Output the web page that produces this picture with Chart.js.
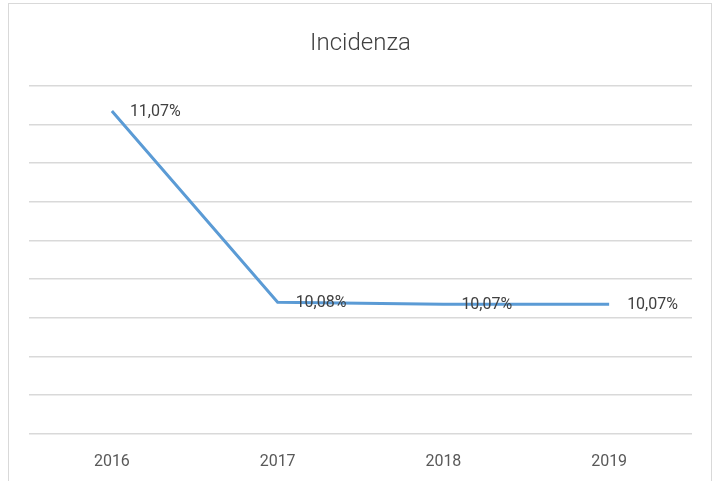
<!DOCTYPE html>
<html>
<head>
<meta charset="utf-8">
<script src="https://cdn.jsdelivr.net/npm/chart.js@4"></script>
<style>
  html, body { margin: 0; padding: 0; background: #fff; }
  .wrap { position: relative; width: 720px; height: 481px; overflow: hidden; }
  .frame { position: absolute; left: 8px; top: 3px; width: 702px; height: 520px; border: 1px solid #d9d9d9; }
  canvas { position: absolute; left: 0; top: 0; }
</style>
</head>
<body>
<div class="wrap">
  <div class="frame"></div>
  <canvas id="chart" width="720" height="481"></canvas>
</div>
<script>
const years = ["2016", "2017", "2018", "2019"];
const incidenza = [11.07, 10.08, 10.07, 10.07];
const yMin = 9.4;
const yMax = 11.2;
const yStep = 0.2;

function formatPercent(value) {
  return value.toFixed(2).replace(".", ",") + "%";
}

// data labels drawn to the right of each point, like the original
const pointLabels = {
  id: "pointLabels",
  afterDatasetsDraw(chart) {
    const ctx = chart.ctx;
    const meta = chart.getDatasetMeta(0);
    ctx.save();
    ctx.font = "16px Roboto";
    ctx.fillStyle = "#404040";
    ctx.textAlign = "left";
    ctx.textBaseline = "middle";
    meta.data.forEach((point, i) => {
      ctx.fillText(formatPercent(incidenza[i]), point.x + 18, point.y + 1);
    });
    ctx.restore();
  }
};

new Chart(document.getElementById("chart"), {
  type: "line",
  data: {
    labels: years,
    datasets: [
      {
        label: "Incidenza",
        data: incidenza,
        borderColor: "#5b9bd5",
        borderWidth: 3,
        pointRadius: 0,
        tension: 0,
        fill: false
      }
    ]
  },
  options: {
    responsive: false,
    animation: false,
    layout: { padding: { top: 30, left: 29, right: 28, bottom: -10 } },
    plugins: {
      legend: { display: false },
      tooltip: { enabled: false },
      title: {
        display: true,
        text: "Incidenza",
        color: "#404040",
        font: { family: "Roboto", size: 24, weight: "300" },
        padding: { top: 0, bottom: 27 }
      }
    },
    scales: {
      x: {
        offset: true,
        grid: { display: false, drawTicks: false },
        border: { display: false },
        ticks: { color: "#595959", font: { family: "Roboto", size: 16 }, padding: 19 }
      },
      y: {
        min: yMin,
        max: yMax,
        grid: { color: "#d9d9d9", lineWidth: 1.5, drawTicks: false },
        border: { display: false },
        ticks: { display: false, stepSize: yStep }
      }
    }
  },
  plugins: [pointLabels]
});
</script>
</body>
</html>
